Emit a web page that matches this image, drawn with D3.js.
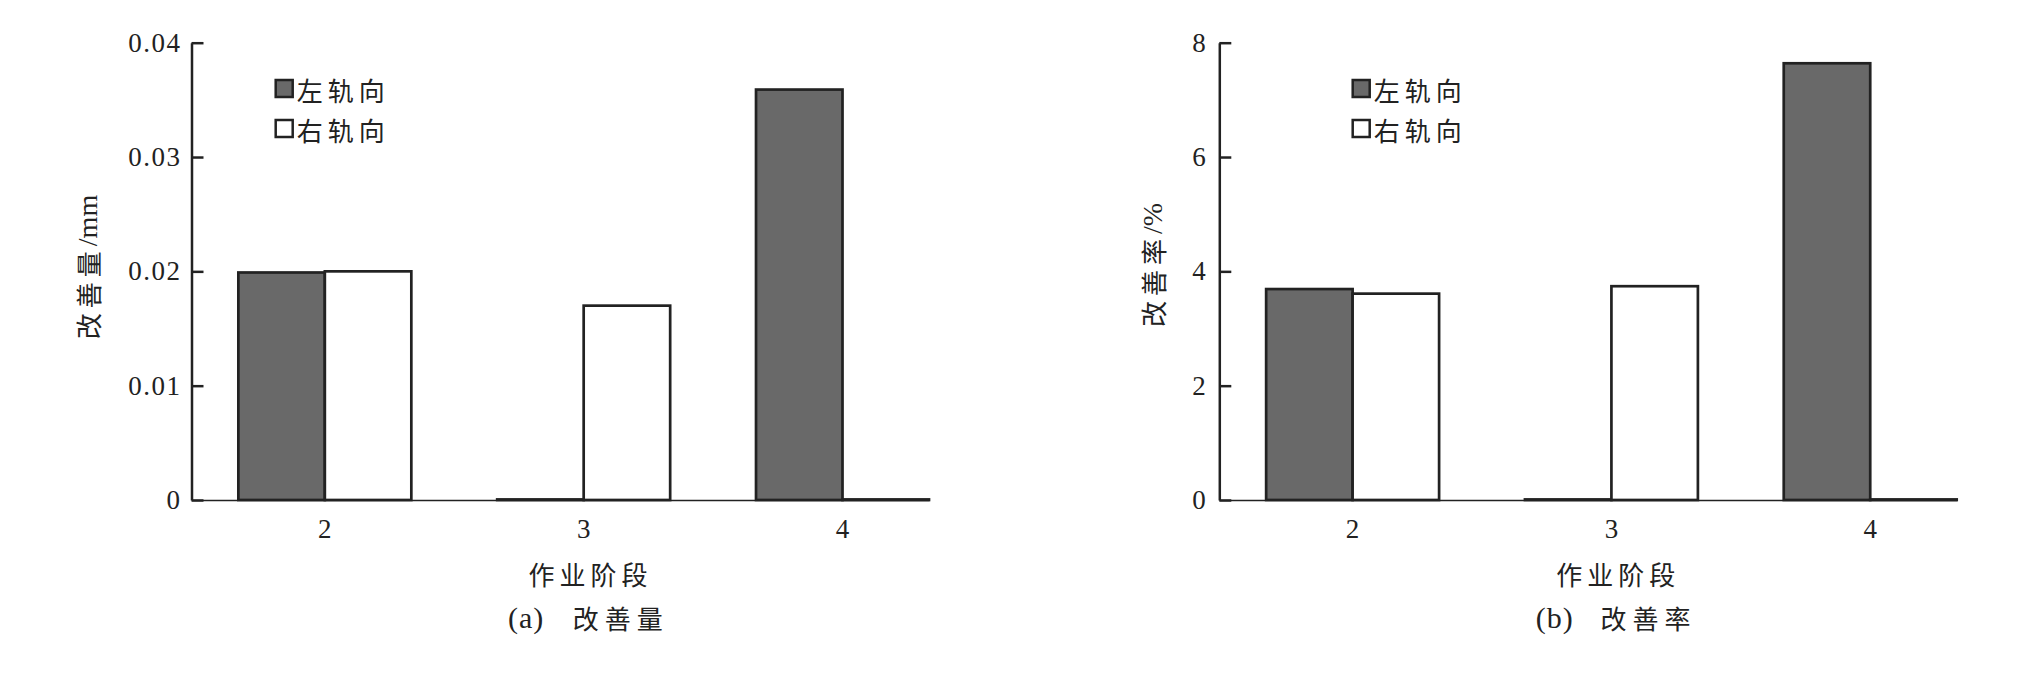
<!DOCTYPE html>
<html><head><meta charset="utf-8">
<script src="https://cdn.jsdelivr.net/npm/d3@7"></script>
<style>body{margin:0;background:#fff}</style>
</head><body><svg id="c" width="2024" height="691"></svg>
<script>
// ---- data ----
const categories = ["2", "3", "4"];
const seriesNames = ["左轨向", "右轨向"];
const amountLeft = [0.0199, 0.00005, 0.0359];
const amountRight = [0.0200, 0.0170, 0.00005];
const rateLeft = [3.69, 0.01, 7.64];
const rateRight = [3.61, 3.74, 0.01];
const amountTicks = [0, 0.01, 0.02, 0.03, 0.04];
const amountTickLabels = ["0", "0.01", "0.02", "0.03", "0.04"];
const rateTicks = [0, 2, 4, 6, 8];
const rateTickLabels = ["0", "2", "4", "6", "8"];
const xTitle = "作业阶段";
const yTitleA = ["改善量", "/mm"];
const yTitleB = ["改善率", "/%"];
const captionA = ["(a)", "改善量"];
const captionB = ["(b)", "改善率"];

// ---- layout ----
const FONT = "'Liberation Serif','Noto Sans CJK SC',serif";
const CJK = "'Noto Sans CJK SC','Liberation Serif',sans-serif";
const INK = "#222";
const DARK = "#696969";
const svg = d3.select("#c");
svg.append("rect").attr("width", 2024).attr("height", 691).attr("fill", "#fff");

const panels = [
  {x0: 191.5, x1: 929, yMax: 0.04, left: amountLeft, right: amountRight,
   ticks: amountTicks, tickLabels: amountTickLabels, legendX: 275.7,
   yTitle: yTitleA, yTitleX: 86.5, yTitleY: 267, caption: captionA, tickPad: 10},
  {x0: 1219.3, x1: 1956.7, yMax: 8, left: rateLeft, right: rateRight,
   ticks: rateTicks, tickLabels: rateTickLabels, legendX: 1352.7,
   yTitle: yTitleB, yTitleX: 1151.5, yTitleY: 265, caption: captionB, tickPad: 12}
];

function draw(p) {
  const g = svg.append("g");
  const x = d3.scaleBand().domain(categories).range([p.x0, p.x1])
    .paddingInner(0.3317).paddingOuter(0.0905).align(1);
  const xs = d3.scaleBand().domain(seriesNames).range([0, x.bandwidth()]);
  const y = d3.scaleLinear().domain([0, p.yMax]).range([500, 42.7]);

  // x axis
  const xa = g.append("g").attr("transform", `translate(0,${y(0)})`)
    .call(d3.axisBottom(x).tickSize(0).tickSizeOuter(0).tickPadding(19));
  xa.select(".domain").attr("stroke", INK).attr("stroke-width", 1.6);
  xa.selectAll("text").attr("font-family", FONT).attr("font-size", 27).attr("fill", INK);

  // bars
  const rows = categories.map((c, i) => ({c, vals: [p.left[i], p.right[i]]}));
  g.append("g").selectAll("g").data(rows).join("g")
    .attr("transform", d => `translate(${x(d.c)},0)`)
    .selectAll("rect").data(d => d.vals.map((v, j) => ({s: seriesNames[j], v, j})))
    .join("rect")
    .attr("x", d => xs(d.s)).attr("width", xs.bandwidth())
    .attr("y", d => y(d.v)).attr("height", d => y(0) - y(d.v))
    .attr("fill", d => d.j === 0 ? DARK : "#fff")
    .attr("stroke", INK).attr("stroke-width", 2.7);

  // y axis
  const ya = g.append("g").attr("transform", `translate(${p.x0},0)`)
    .call(d3.axisLeft(y).tickValues(p.ticks).tickFormat((d, i) => p.tickLabels[i])
      .tickSizeInner(-12).tickSizeOuter(0).tickPadding(p.tickPad));
  ya.select(".domain").attr("stroke", INK).attr("stroke-width", 2.5);
  ya.selectAll(".tick line").attr("stroke", INK).attr("stroke-width", 2.5);
  ya.selectAll("text").attr("font-family", FONT).attr("font-size", 27)
    .attr("letter-spacing", 1.5).attr("fill", INK);

  // legend
  const lg = g.append("g");
  seriesNames.forEach((s, j) => {
    lg.append("rect").attr("x", p.legendX).attr("y", 80 + j * 40)
      .attr("width", 17).attr("height", 17)
      .attr("fill", j === 0 ? DARK : "#fff").attr("stroke", INK).attr("stroke-width", 2.5);
    lg.append("text").attr("x", p.legendX + 21).attr("y", 89 + j * 40)
      .attr("dominant-baseline", "central").attr("font-family", CJK)
      .attr("font-size", 26).attr("letter-spacing", 5).attr("fill", INK).text(s);
  });

  // x title
  g.append("text").attr("x", p.x0 + 399).attr("y", 573)
    .attr("text-anchor", "middle").attr("dominant-baseline", "central")
    .attr("font-family", CJK).attr("font-size", 26).attr("letter-spacing", 5)
    .attr("fill", INK).text(xTitle);

  // caption
  g.append("text").attr("x", p.x0 + 316.5).attr("y", 617)
    .attr("dominant-baseline", "central").attr("font-family", FONT)
    .attr("font-size", 30).attr("letter-spacing", 1).attr("fill", INK).text(p.caption[0]);
  g.append("text").attr("x", p.x0 + 381.2).attr("y", 617)
    .attr("dominant-baseline", "central").attr("font-family", CJK)
    .attr("font-size", 26).attr("letter-spacing", 6).attr("fill", INK).text(p.caption[1]);

  // y title
  const yt = g.append("text")
    .attr("transform", `translate(${p.yTitleX},${p.yTitleY}) rotate(-90)`)
    .attr("text-anchor", "middle").attr("dominant-baseline", "central")
    .attr("font-size", 26).attr("fill", INK);
  yt.append("tspan").attr("font-family", CJK).attr("letter-spacing", 5).text(p.yTitle[0]);
  yt.append("tspan").attr("font-family", FONT).attr("font-size", 28).text(p.yTitle[1]);
}

panels.forEach(draw);
</script></body></html>
